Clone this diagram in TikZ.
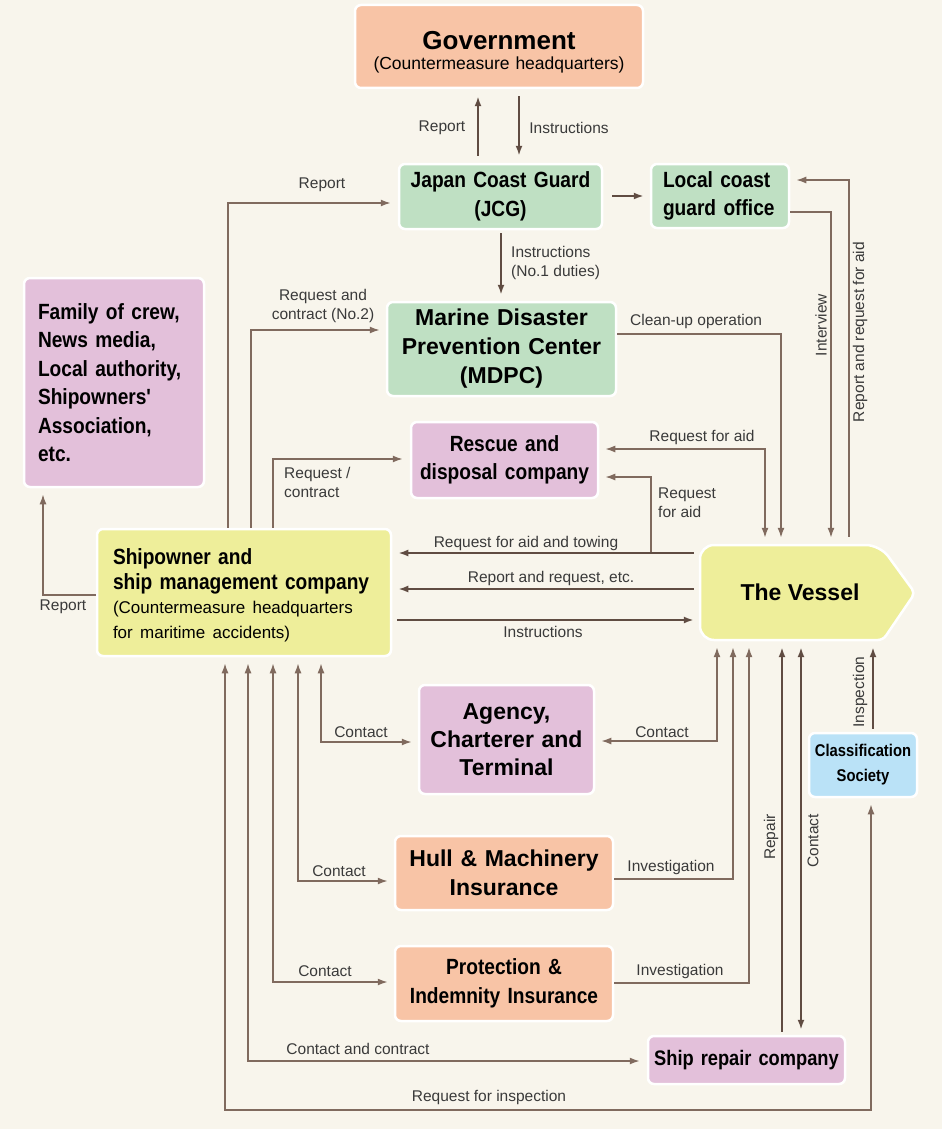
\documentclass[tikz,border=0pt]{standalone}
\usepackage{fontspec}
\setmainfont{Liberation Sans}
\newfontfamily\narrowfont[FakeStretch=0.87]{Liberation Sans}
\usetikzlibrary{arrows.meta}

\definecolor{paper}{HTML}{F8F5EC}
\definecolor{salmon}{HTML}{F8C4A6}
\definecolor{mint}{HTML}{BFE0C3}
\definecolor{lilac}{HTML}{E3C0DA}
\definecolor{lemon}{HTML}{EEEE9A}
\definecolor{sky}{HTML}{BAE2F7}
\definecolor{wire}{HTML}{806A5E}
\definecolor{darkwire}{HTML}{604C42}
\definecolor{caption}{HTML}{3A3A3A}

\begin{document}
\begin{tikzpicture}[x=1pt, y=-1pt]
\tikzset{ >={Latex[length=10pt,width=7pt]},
  box/.style={draw=white, line width=2.5pt, rounded corners=6pt, inner sep=0pt, align=center},
  wide/.style={font=\fontsize{23}{29}\selectfont\bfseries},
  narrow/.style={font=\narrowfont\fontsize{22}{28.5}\selectfont\bfseries},
  lbl/.style={font=\fontsize{15.5}{19}\selectfont, text=caption, inner sep=0pt},
  link/.style={draw=wire, line width=1.6pt, shorten >=6pt},
  trunk/.style={draw=darkwire, line width=2.4pt, shorten >=6pt},
}
%\draw [lightgray, dashed] (0,0) grid[step=50] (942,1129);
\fill [paper] (0,0) rectangle (942,1129);

% boxes
\node [box, fill=salmon, text width=288pt, minimum height=83pt, font=\fontsize{17.5}{24}\selectfont] (GOV) at (499,46.5)
  {\rule{0pt}{25pt}\raisebox{-4pt}{\fontsize{26}{24}\selectfont\bfseries Government}\\(Countermeasure headquarters)};
\node [box, narrow, fill=mint, text width=203pt, minimum height=65pt] (JCG) at (500.5,196.5) {Japan Coast Guard\\(JCG)};
\node [box, narrow, fill=mint, text width=114pt, inner xsep=12pt, minimum height=64pt, align=left] (LCG) at (720,196) {Local coast\\guard office};
\node [box, wide, fill=mint, text width=229pt, minimum height=94pt] (MDPC) at (501.5,349) {Marine Disaster\\Prevention Center\\(MDPC)};
\node [box, narrow, fill=lilac, text width=152pt, inner xsep=14pt, minimum height=209pt, align=left] (FAM) at (114,382.5)
  {Family of crew,\\News media,\\Local authority,\\Shipowners'\\Association,\\etc.};
\node [box, narrow, fill=lilac, text width=187pt, minimum height=76pt] (RES) at (504.5,460) {Rescue and\\disposal company};
\node [box, fill=lemon, text width=262pt, inner xsep=16pt, minimum height=127pt, align=left,
  font=\narrowfont\fontsize{22}{25}\selectfont\bfseries] (OWN) at (244,592.5)
  {\rule{0pt}{22pt}Shipowner and\\ship management company\\\rmfamily\mdseries\fontsize{17}{24.5}\selectfont (Countermeasure headquarters\\for maritime accidents)};

\draw [draw=white, fill=lemon, line width=2.5pt] (700,593) [rounded corners=14pt] -- (700,545) -- (880,545)
  [rounded corners=5pt] -- (915,593) -- (883,640) [rounded corners=14pt] -- (700,640) -- cycle;
\node [wide, minimum width=200pt, minimum height=95pt, inner sep=0pt] (VES) at (800,592.5) {The Vessel};

\node [box, wide, fill=lilac, text width=175pt, minimum height=109pt, font=\fontsize{23}{28}\selectfont\bfseries] (AGE) at (506.5,739.5) {Agency,\\Charterer and\\Terminal};
\node [box, wide, fill=salmon, text width=218pt, minimum height=74pt] (HULL) at (504,873) {Hull \& Machinery\\Insurance};
\node [box, narrow, fill=salmon, text width=218pt, minimum height=75pt] (PNI) at (504,983.5) {Protection \&\\Indemnity Insurance};
\node [box, fill=lilac, text width=197pt, minimum height=48pt, font=\narrowfont\fontsize{21}{25}\selectfont\bfseries] (REP) at (746.5,1060) {Ship repair company};
\node [box, fill=sky, text width=108pt, minimum height=64pt, font=\narrowfont\fontsize{17}{25}\selectfont\bfseries] (CLS) at (863,765) {Classification\\Society};

% top part
\draw [trunk, ->, shorten <=7pt, shorten >=7pt] (JCG.north -| 478,0) -- (GOV.south -| 478,0);
\draw [trunk, ->, shorten <=7pt, shorten >=7pt] (GOV.south -| 519,0) -- (JCG.north -| 519,0);
\draw [trunk, ->, shorten <=9pt] (JCG.east |- 0,196) -- (LCG.west |- 0,196);
\draw [trunk, ->, shorten <=3pt] (JCG.south -| 501,0) -- (MDPC.north -| 501,0);
\draw [link, ->, shorten >=7pt] (OWN.north -| 228,0) |- (JCG.west |- 0,203);
\draw [link, ->] (OWN.north -| 251,0) |- (MDPC.west |- 0,330);
\draw [link, ->, shorten >=7pt] (OWN.north -| 273,0) |- (RES.west |- 0,459);
\draw [link, ->] (OWN.west |- 0,595) -| (FAM.south -| 43,0);

% to and from the vessel
\draw [link, ->, shorten >=7pt] (MDPC.east |- 0,334) -| (VES.north -| 781,0);
\draw [link, ->, shorten >=7pt] (LCG.east |- 0,212) -| (VES.north -| 831,0);
\draw [link, ->, shorten <=8pt] (VES.north -| 849,0) |- (LCG.east |- 0,180);
\draw [link, <->, shorten <=6pt, shorten >=7pt] (RES.east |- 0,449) -| (VES.north -| 765,0);
\coordinate (TOW) at (651,553);
\draw [link, ->] (TOW) |- (RES.east |- 0,477);
\draw [trunk, ->, shorten <=6pt] (VES.west |- 0,553) -- (OWN.east |- 0,553);
\draw [trunk, ->, shorten <=6pt] (VES.west |- 0,589) -- (OWN.east |- 0,589);
\draw [trunk, ->, shorten <=5pt] (OWN.east |- 0,620) -- (VES.west |- 0,620);

% bottom part
\draw [link, <->, shorten <=6pt] (AGE.west |- 0,742) -| (OWN.south -| 321,0);
\draw [link, <->, shorten <=6pt] (HULL.west |- 0,881) -| (OWN.south -| 298,0);
\draw [link, <->, shorten <=6pt] (PNI.west |- 0,982) -| (OWN.south -| 273,0);
\draw [link, <->, shorten <=7pt] (REP.west |- 0,1061) -| (OWN.south -| 248,0);
\draw [link, <->, shorten <=6pt] (CLS.south -| 871,0) -- (871,1110) -| (OWN.south -| 225,0);
\draw [link, <->, shorten <=6pt, shorten >=7pt] (AGE.east |- 0,741) -| (VES.south -| 717,0);
\draw [link, ->, shorten >=7pt] (HULL.east |- 0,879) -| (VES.south -| 733,0);
\draw [link, ->, shorten >=7pt] (PNI.east |- 0,983) -| (VES.south -| 749,0);
\draw [trunk, ->, shorten <=3pt, shorten >=7pt] (REP.north -| 782,0) -- (VES.south -| 782,0);
\draw [trunk, <->, shorten <=5pt, shorten >=7pt] (REP.north -| 801,0) -- (VES.south -| 801,0);
\draw [trunk, ->, shorten <=3pt, shorten >=7pt] (CLS.north -| 873,0) -- (VES.south -| 873,0);

% labels
\node [lbl] (tRep1) at (442,128) {Report};
\node [lbl] (tIns1) at (569,128) {Instructions};
\node [lbl] (tRep2) at (322,185) {Report};
\node [lbl, anchor=west, align=left] (tIns2) at (511,263) {Instructions\\(No.1 duties)};
\node [lbl, align=center] (tReq1) at (323,306) {Request and\\contract (No.2)};
\node [lbl, anchor=west, align=left] (tReq2) at (284,482) {Request /\\contract};
\node [lbl, anchor=west] (tClean) at (630,321) {Clean-up operation};
\node [lbl] (tAid1) at (702,437) {Request for aid};
\node [lbl, anchor=west, align=left] (tAid2) at (658,503) {Request\\for aid};
\node [lbl, rotate=90] (tIntv) at (821,325) {Interview};
\node [lbl, rotate=90] (tRep3) at (860,332) {Report and request for aid};
\node [lbl] (tTow) at (526,543) {Request for aid and towing};
\node [lbl] (tRep4) at (551,578) {Report and request, etc.};
\node [lbl] (tIns3) at (543,632) {Instructions};
\node [lbl] (tRep5) at (63,607) {Report};
\node [lbl] (tCon1) at (361,732) {Contact};
\node [lbl] (tCon2) at (662,732) {Contact};
\node [lbl] (tCon3) at (339,871) {Contact};
\node [lbl] (tInv1) at (671,867) {Investigation};
\node [lbl] (tCon4) at (325,971) {Contact};
\node [lbl] (tInv2) at (680,971) {Investigation};
\node [lbl, rotate=90] (tRepair) at (771,837) {Repair};
\node [lbl, rotate=90] (tCon5) at (813,841) {Contact};
\node [lbl, rotate=90] (tInsp) at (860,692) {Inspection};
\node [lbl] (tCon6) at (358,1049) {Contact and contract};
\node [lbl] (tReq3) at (489,1097) {Request for inspection};

\end{tikzpicture}
\end{document}
